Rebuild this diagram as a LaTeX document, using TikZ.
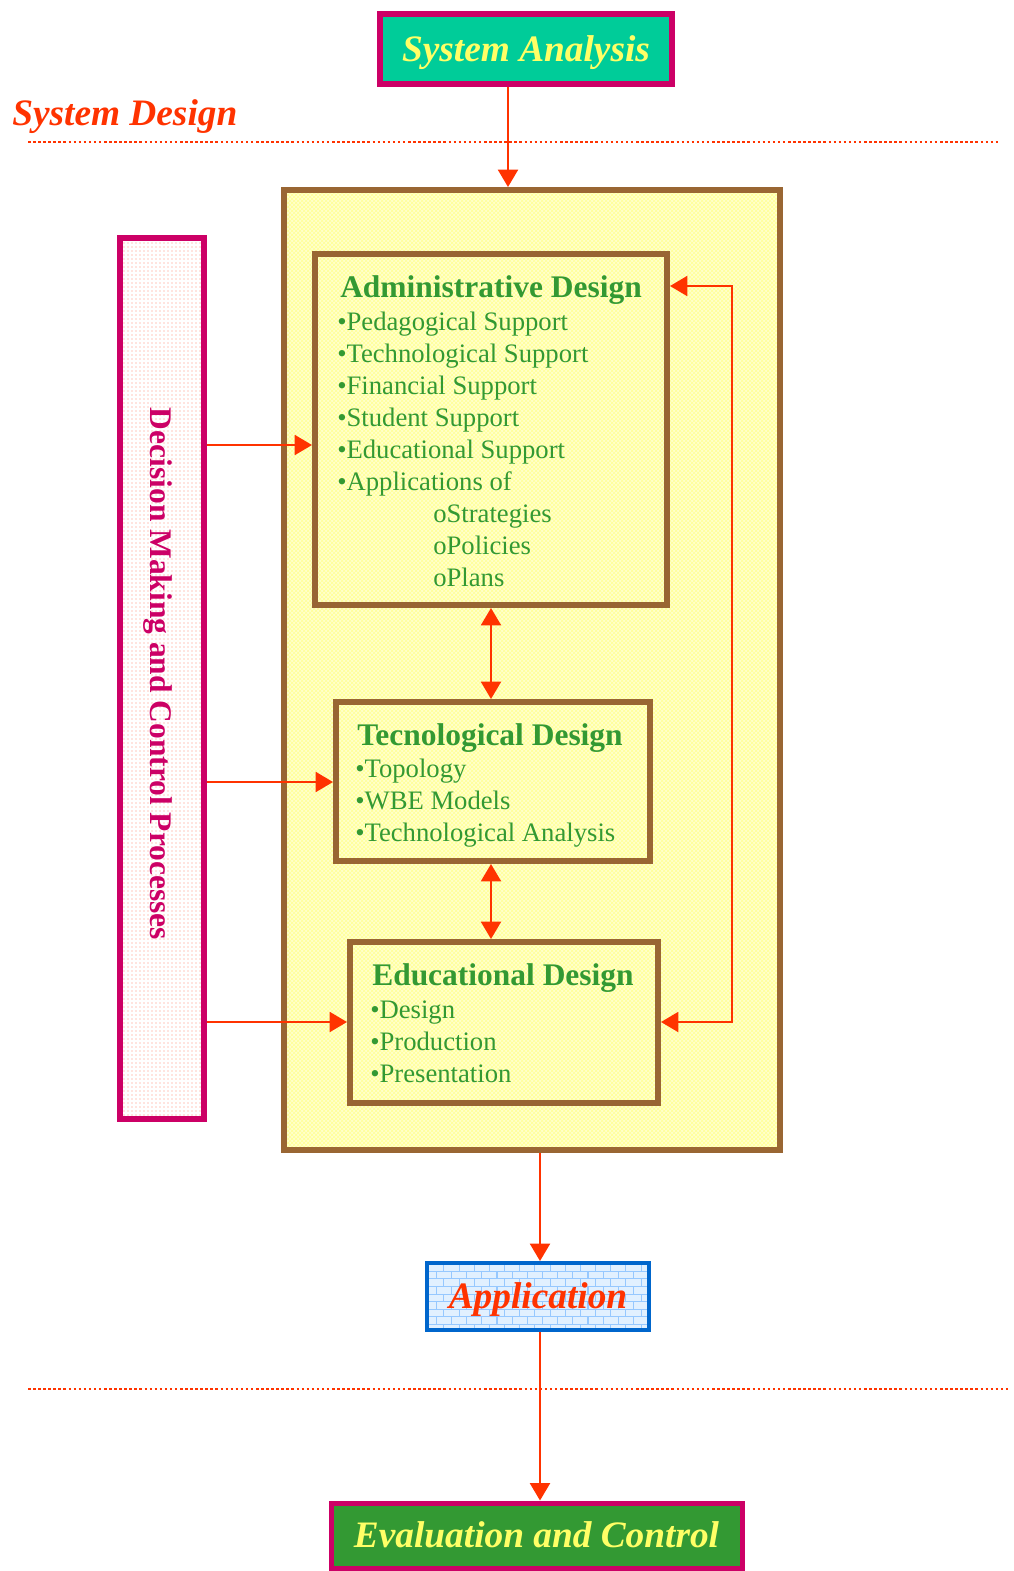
\documentclass[tikz,border=0pt]{standalone}
\usepackage{fontspec}
\setmainfont{Liberation Serif}
\usetikzlibrary{arrows.meta,patterns}
\definecolor{mag}{RGB}{204,0,102}
\definecolor{teal2}{RGB}{0,204,153}
\definecolor{yel}{RGB}{255,255,102}
\definecolor{ored}{RGB}{255,51,0}
\definecolor{brown2}{RGB}{153,102,51}
\definecolor{lyel}{RGB}{255,255,204}
\definecolor{lyel2}{RGB}{255,255,150}
\definecolor{grn}{RGB}{51,153,51}
\definecolor{blu}{RGB}{0,102,204}
\definecolor{lblu}{RGB}{225,240,255}
\definecolor{lblu2}{RGB}{150,200,255}
\definecolor{pnk}{RGB}{255,140,120}
\begin{document}
\begin{tikzpicture}[x=0.75pt,y=-0.75pt,
  box/.style={draw, line width=4.5pt, inner sep=0pt},
  sz/.style 2 args={minimum width=#1*0.75pt, minimum height=#2*0.75pt},
  arr/.style={draw=ored, line width=1.5pt, -{Triangle[length=13pt,width=15pt]}},
  dbl/.style={draw=ored, line width=1.5pt, {Triangle[length=13pt,width=15pt]}-{Triangle[length=13pt,width=15pt]}},
  dotline/.style={draw=ored, line width=1.9pt, dash pattern=on 1.9pt off 1.9pt},
  bigtxt/.style={font=\bfseries\itshape\fontsize{28}{32}\selectfont, text height=18.5pt, text depth=0pt},
  ttl/.style={anchor=base west, inner sep=0pt, text=grn, font=\bfseries\fontsize{23.6}{28}\selectfont},
  itm/.style={anchor=base west, inner sep=0pt, text=grn, font=\fontsize{20}{24}\selectfont}]
\useasboundingbox (0,0) rectangle (1014,1571);

% top
\node[box, draw=mag, fill=teal2, sz={292}{70}, text=yel, bigtxt] (sa) at (526,49) {System Analysis};
\node[anchor=base west, inner sep=0pt, text=ored, font=\bfseries\itshape\fontsize{28}{32}\selectfont] (sd) at (12,125) {System Design};
\draw[dotline] (28,142) -- (1000,142);

% outer box
\node[box, draw=brown2, preaction={fill=lyel}, pattern=crosshatch, pattern color=lyel2, sz={496}{960}] (outer) at (532,670) {};

% decision box
\node[box, draw=mag, preaction={fill=white}, pattern=dots, pattern color=pnk, sz={84}{881}] (dec) at (162,678.5) {};
\node[rotate=-90, inner sep=0pt, text=mag, font=\bfseries\fontsize{23.6}{28}\selectfont] (dect) at (158,674) {Decision Making and Control Processes};

% inner boxes
\node[box, draw=brown2, sz={352}{351}] (adm) at (491,429.5) {};
\node[box, draw=brown2, sz={314}{159}] (tec) at (493,781.5) {};
\node[box, draw=brown2, sz={308}{161}] (edu) at (504,1022.5) {};

% admin text
\node[ttl] (a0) at (340,297) {Administrative Design};
\node[itm] (a1) at (337,330) {•Pedagogical Support};
\node[itm] (a2) at (337,362) {•Technological Support};
\node[itm] (a3) at (337,394) {•Financial Support};
\node[itm] (a4) at (337,426) {•Student Support};
\node[itm] (a5) at (337,458) {•Educational Support};
\node[itm] (a6) at (337,490) {•Applications of};
\node[itm] (a7) at (433,522) {oStrategies};
\node[itm] (a8) at (433,554) {oPolicies};
\node[itm] (a9) at (433,586) {oPlans};

% tec text
\node[ttl] (t0) at (357,745) {Tecnological Design};
\node[itm] (t1) at (355,777) {•Topology};
\node[itm] (t2) at (355,809) {•WBE Models};
\node[itm] (t3) at (355,841) {•Technological Analysis};

% edu text
\node[ttl] (e0) at (372,985) {Educational Design};
\node[itm] (e1) at (370,1018) {•Design};
\node[itm] (e2) at (370,1050) {•Production};
\node[itm] (e3) at (370,1082) {•Presentation};

% bottom boxes
\node[box, line width=3pt, draw=blu, preaction={fill=lblu}, pattern=bricks, pattern color=lblu2, sz={222}{67}, text=ored, bigtxt] (app) at (538,1296.5) {Application};
\draw[dotline] (28,1389) -- (1010,1389);
\node[box, line width=3.75pt, draw=mag, fill=grn, sz={411}{65}, text=yel, bigtxt] (ev) at (536.5,1535.5) {Evaluation and Control};

% coordinates
\coordinate (x507) at (508,0);
\coordinate (x539) at (540,0);
\coordinate (x490) at (491,0);
\coordinate (ya) at (0,445);
\coordinate (yt) at (0,782);
\coordinate (ye) at (0,1022);
\coordinate (fbtop) at (731.5,286);
\coordinate (fbbot) at (731.5,1022);

% connectors
\draw[arr] (sa.south -| x507) -- (outer.north -| x507);
\draw[arr] (outer.south -| x539) -- (app.north -| x539);
\draw[arr] (app.south -| x539) -- (ev.north -| x539);
\draw[dbl] (adm.south -| x490) -- (tec.north -| x490);
\draw[dbl] (tec.south -| x490) -- (edu.north -| x490);
\draw[arr] (dec.east |- ya) -- (adm.west |- ya);
\draw[arr] (dec.east |- yt) -- (tec.west |- yt);
\draw[arr] (dec.east |- ye) -- (edu.west |- ye);
\draw[dbl] (adm.east |- fbtop) -- (fbtop) -- (fbbot) -- (edu.east |- fbbot);
\end{tikzpicture}
\end{document}
